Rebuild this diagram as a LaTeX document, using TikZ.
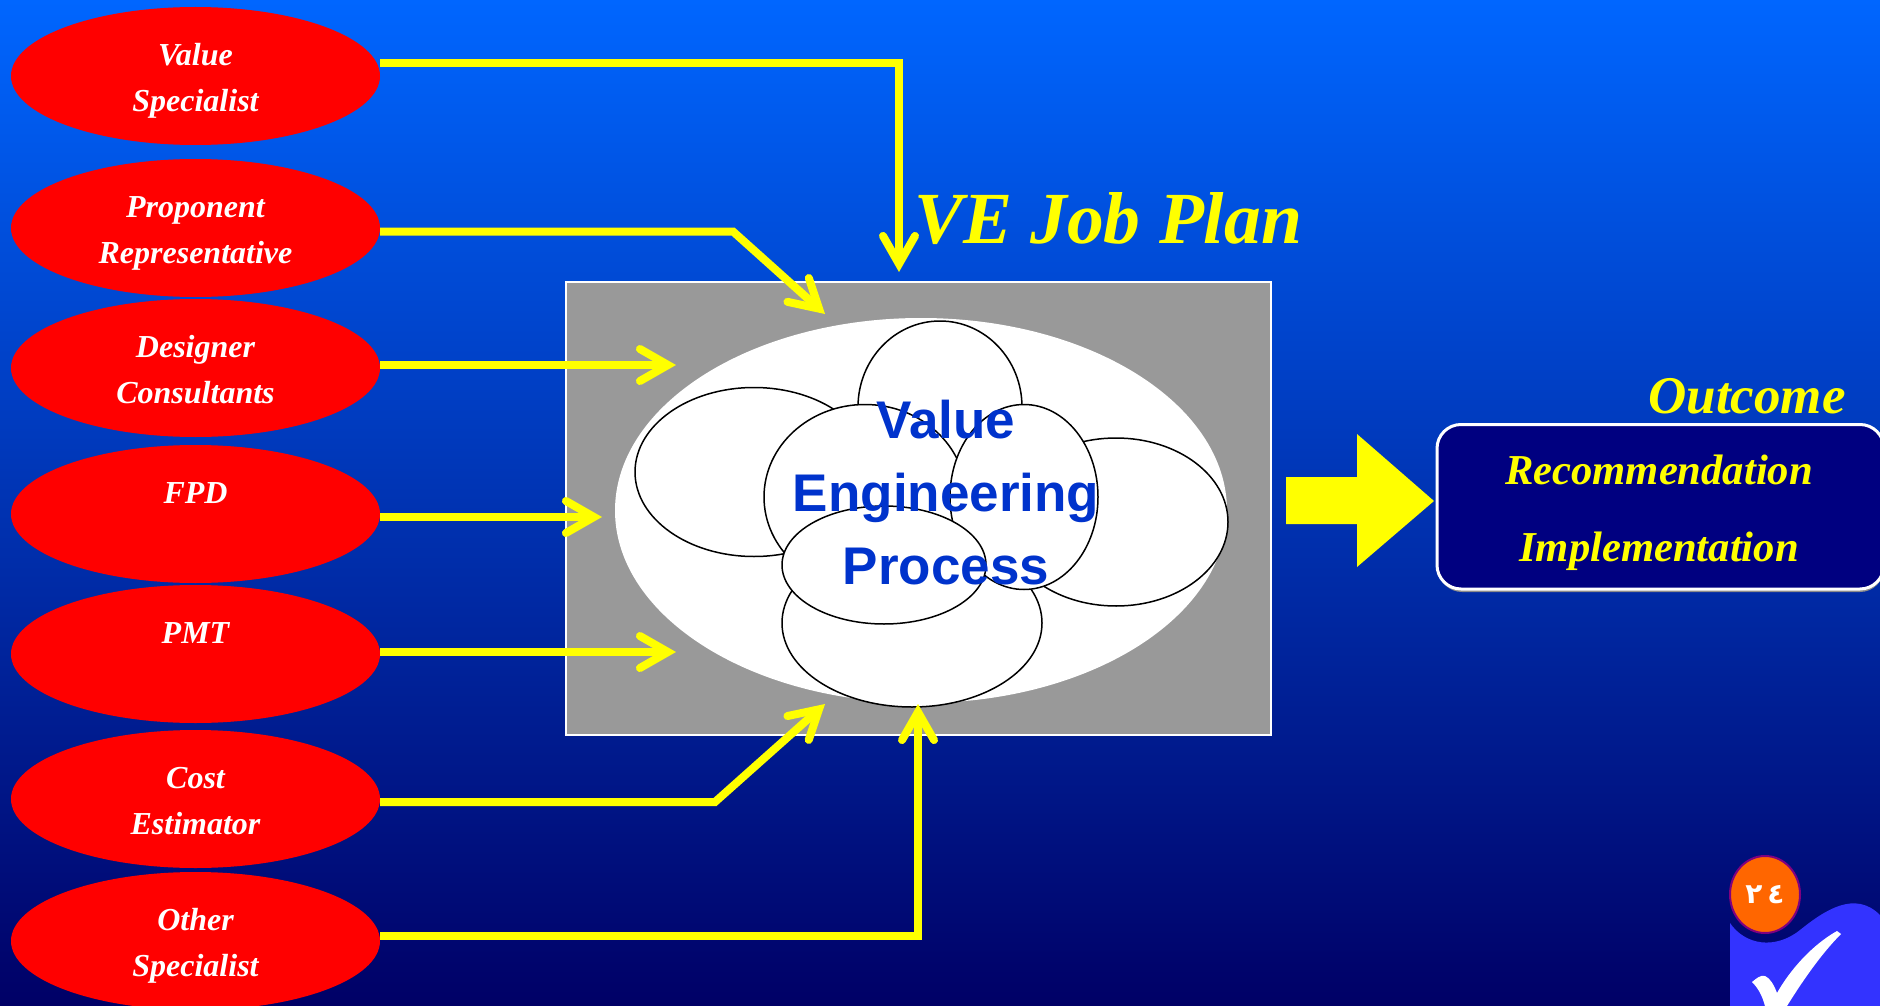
\documentclass[tikz,border=0pt]{standalone}
\usepackage{fontspec}
\usetikzlibrary{arrows.meta,shapes.geometric}
\setmainfont{Liberation Serif}
\newfontfamily\vefont{Liberation Sans}
\newfontfamily\arabicfont[Script=Arabic]{DejaVu Sans}
\definecolor{topblue}{RGB}{0,102,255}
\definecolor{lowblue}{RGB}{0,0,102}
\definecolor{textblue}{RGB}{0,51,204}
\definecolor{boxnavy}{RGB}{0,0,128}
\definecolor{markblue}{RGB}{51,51,255}
\definecolor{badgeorange}{RGB}{255,102,0}
\definecolor{badgepurple}{RGB}{128,0,128}
\definecolor{lineyellow}{RGB}{255,255,0}
\tikzset{
    member/.style={ellipse,fill=red,text=white,inner sep=0pt,minimum width=369pt,minimum height=138pt,
      align=center,font=\fontsize{32}{46}\selectfont\bfseries\itshape,text height=78pt,text depth=7pt},
    link/.style={lineyellow,line width=8pt,-{Straight Barb[length=28pt,width=32pt,line width=8pt,line cap=round,line join=miter]}},
    petal/.style={ellipse,draw=black,line width=1.5pt,fill=white,inner sep=0pt},
    heading/.style={text=lineyellow,inner sep=0pt,anchor=base,font=\fontsize{53}{53}\selectfont\bfseries\itshape},
    outcometext/.style={heading,font=\fontsize{42.6}{43}\selectfont\bfseries\itshape}
}
\begin{document}
\begin{tikzpicture}[x=1pt,y=-1pt]
    \useasboundingbox (0,0) rectangle (1880,1006);
    \shade[top color=topblue,bottom color=lowblue] (0,0) rectangle (1880,1006);
    %
    \node[member] (value) at (195.5,76) {Value\\Specialist};
    \node[member] (proponent) at (195.5,228) {Proponent\\Representative};
    \node[member] (designer) at (195.5,368) {Designer\\Consultants};
    \node[member] (fpd) at (195.5,514) {FPD\\~};
    \node[member] (pmt) at (195.5,654) {PMT\\~};
    \node[member] (cost) at (195.5,799) {Cost\\Estimator};
    \node[member] (other) at (195.5,941) {Other\\Specialist};
    %
    \draw[white,line width=1.5pt,fill=black!40] (566,282) rectangle (1271,735);
    \node[ellipse,fill=white,inner sep=0pt,minimum width=612pt,minimum height=385pt] (process) at (921,510.5) {};
    \node[petal,minimum width=164pt,minimum height=172pt] (petala) at (940,407) {};
    \node[petal,minimum width=238pt,minimum height=169pt] (petalb) at (754,472) {};
    \node[petal,minimum width=224pt,minimum height=168pt] (petalc) at (1116,522) {};
    \node[petal,minimum width=260pt,minimum height=168pt] (petald) at (912,623) {};
    \node[petal,minimum width=202pt,minimum height=185pt] (petale) at (865,497) {};
    \node[petal,minimum width=148pt,minimum height=185pt] (petalf) at (1024,497) {};
    \node[petal,minimum width=204pt,minimum height=118pt] (petalg) at (884,565) {};
    \node[text=textblue,align=center,inner sep=0pt,font=\fontsize{53}{73}\selectfont\vefont\bfseries] (vep) at (946,493)
      {Value\\Engineering\\Process};
    %
    \coordinate (endvalue) at (899,272);
    \coordinate (endproponent) at (825,314);
    \coordinate (enddesigner) at (676,365);
    \coordinate (endfpd) at (602,517);
    \coordinate (endpmt) at (676,652);
    \coordinate (endcost) at (825,704);
    \coordinate (endother) at (918,704);
    \draw[link] ([yshift=13pt]value.east) -| (endvalue);
    \draw[link] ([yshift=-3.5pt]proponent.east) -- (733,231.5) -- (endproponent);
    \draw[link] ([yshift=3pt]designer.east) -- (enddesigner);
    \draw[link] ([yshift=-3pt]fpd.east) -- (endfpd);
    \draw[link] ([yshift=2pt]pmt.east) -- (endpmt);
    \draw[link] ([yshift=-3pt]cost.east) -- (715,802) -- (endcost);
    \draw[link] ([yshift=5pt]other.east) -| (endother);
    %
    \node[heading,font=\fontsize{73.5}{74}\selectfont\bfseries\itshape] (title) at (1108,243) {VE Job Plan};
    %
    \fill[lineyellow] (1286,477) -- (1357,477) -- (1357,434) -- (1434,501) -- (1357,567) -- (1357,524) -- (1286,524) -- cycle;
    \fill[black!45,rounded corners=24pt] (1438,426) rectangle (1884,592);
    \draw[white,line width=3pt,fill=boxnavy,rounded corners=24pt] (1437,424.5) rectangle (1884,589);
    \node[heading] (outcome) at (1747,413) {Outcome};
    \node[outcometext] (recommendation) at (1659,484) {Recommendation};
    \node[outcometext] (implementation) at (1659,561) {Implementation};
    %
    \fill[markblue] (1730,923) .. controls (1745,945) and (1775,950) .. (1800,930) .. controls (1825,910) and (1855,890) .. (1880,915) -- (1880,1006) -- (1730,1006) -- cycle;
    \fill[white] (1752,982) .. controls (1757,978) and (1760,975) .. (1765,976) .. controls (1770,978) and (1774,985) .. (1777,993) .. controls (1790,970) and (1812,945) .. (1837,931) -- (1841,934) .. controls (1820,955) and (1800,985) .. (1787,1006) -- (1765,1006) .. controls (1762,995) and (1758,988) .. (1752,982) -- cycle;
    \node[ellipse,fill=badgeorange,draw=badgepurple,line width=2pt,text=white,inner sep=0pt,minimum width=70pt,minimum height=77pt,
      font=\fontsize{28}{28}\selectfont\arabicfont\bfseries] (badge) at (1765,894.5) {٢\hspace{5pt}٤};
\end{tikzpicture}
\end{document}
